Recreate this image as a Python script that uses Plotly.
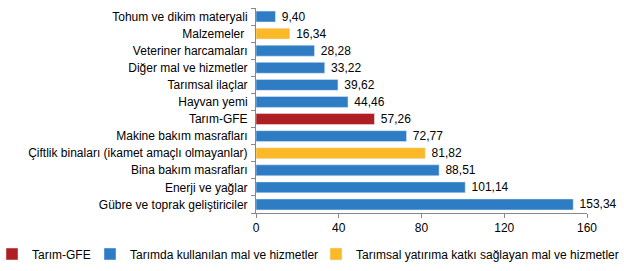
import plotly.graph_objects as go

categories = ["Tohum ve dikim materyali", "Malzemeler ", "Veteriner harcamaları", "Diğer mal ve hizmetler",
              "Tarımsal ilaçlar", "Hayvan yemi", "Tarım-GFE", "Makine bakım masrafları",
              "Çiftlik binaları (ikamet amaçlı olmayanlar)", "Bina bakım masrafları",
              "Enerji ve yağlar", "Gübre ve toprak geliştiriciler"]
values = [9.40, 16.34, 28.28, 33.22, 39.62, 44.46, 57.26, 72.77, 81.82, 88.51, 101.14, 153.34]
groups = ["b", "y", "b", "b", "b", "b", "r", "b", "y", "b", "b", "b"]
series = [("r", "Tarım-GFE", "#AE1E22", "legend"),
          ("b", "Tarımda kullanılan mal ve hizmetler", "#2E7CC3", "legend2"),
          ("y", "Tarımsal yatırıma katkı sağlayan mal ve hizmetler", "#FBB928", "legend3")]
ticks = [0, 40, 80, 120, 160]

fig = go.Figure()
for key, name, color, leg in series:
    cats = [c for c, g in zip(categories, groups) if g == key]
    vals = [v for v, g in zip(values, groups) if g == key]
    fig.add_trace(go.Bar(
        y=cats, x=vals, orientation="h", name=name, marker_color=color, width=0.64,
        text=["\u00a0" + f"{v:.2f}".replace(".", ",") for v in vals], textposition="outside",
        constraintext="none", legend=leg,
        textfont=dict(size=12, color="#000"), cliponaxis=False,
    ))

L, R, T, B = 256, 37, 8, 58
pw = 624 - L - R
ph = 271 - T - B

def px_x(px):
    return (px - L) / pw

def px_y(py):
    return (271 - B - py) / ph

leg_common = dict(orientation="h", yanchor="middle", y=px_y(254), xanchor="left",
                  font=dict(size=12, color="#000"), bgcolor="rgba(0,0,0,0)")

fig.update_layout(
    width=624, height=271, barmode="overlay",
    margin=dict(l=L, r=R, t=T, b=B, autoexpand=False),
    paper_bgcolor="white", plot_bgcolor="white",
    font=dict(family="Liberation Sans, Arial, sans-serif", size=12, color="#000"),
    showlegend=True,
    legend=dict(x=px_x(-8), **leg_common),
    legend2=dict(x=px_x(90), **leg_common),
    legend3=dict(x=px_x(316), **leg_common),
    xaxis=dict(range=[0, 160], tickvals=ticks, ticktext=[str(t) for t in ticks],
               showgrid=False, zeroline=False, showline=True, linecolor="#888",
               ticks="outside", ticklen=4, tickcolor="#888", tickfont=dict(size=12)),
    yaxis=dict(categoryorder="array", categoryarray=categories, autorange="reversed",
               tickmode="array", tickvals=categories, ticklabelstandoff=5,
               showline=True, linecolor="#888", ticks="outside", ticklen=4, tickcolor="#888",
               tickson="boundaries", showgrid=False, tickfont=dict(size=12)),
)
fig.write_html("out.html")
